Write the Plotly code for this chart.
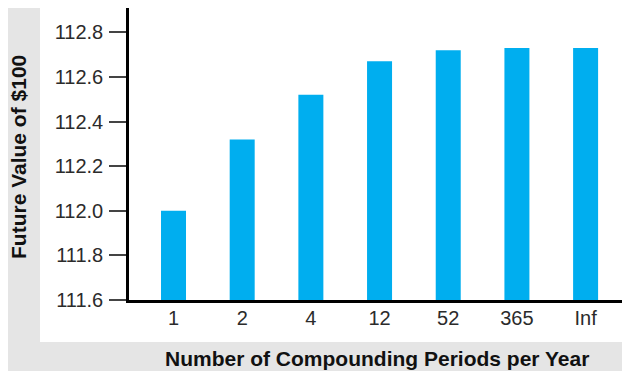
import plotly.graph_objects as go

# Future value of $100 at 12% annual interest, by compounding frequency
periods = ["1", "2", "4", "12", "52", "365", "Inf"]
future_value = [112.00, 112.32, 112.52, 112.67, 112.72, 112.73, 112.73]
y_ticks = [111.6, 111.8, 112.0, 112.2, 112.4, 112.6, 112.8]

W, H = 622, 371
L, R, T, B = 129, 0, 8, 71
pw, ph = W - L - R, H - T - B


def px_x(x):
    return (x - L) / pw


def px_y(y):
    return (H - B - y) / ph


positions = list(range(len(periods)))

fig = go.Figure(
    go.Bar(
        x=positions,
        y=future_value,
        width=0.364,
        marker=dict(color="#00AEEF", line=dict(width=0)),
    )
)

font_family = "Liberation Sans, Arial, Helvetica, sans-serif"

fig.update_layout(
    width=W,
    height=H,
    margin=dict(l=L, r=R, t=T, b=B, pad=0),
    paper_bgcolor="white",
    plot_bgcolor="rgba(0,0,0,0)",
    showlegend=False,
    font=dict(family=font_family, size=20, color="#2b2b2b"),
    xaxis=dict(
        range=[-0.648, 6.53],
        tickvals=positions,
        ticktext=periods,
        showgrid=False,
        zeroline=False,
        showline=True,
        linecolor="black",
        linewidth=2.5,
        ticks="",
        ticklabelstandoff=-2,
        tickfont=dict(size=20, color="#2b2b2b"),
    ),
    yaxis=dict(
        range=[111.6, 112.909],
        tickvals=y_ticks,
        ticktext=[f"{v:.1f}" for v in y_ticks],
        showgrid=False,
        zeroline=False,
        showline=True,
        linecolor="black",
        linewidth=2.5,
        ticks="outside",
        ticklen=17,
        tickwidth=1.5,
        tickcolor="#444444",
        ticklabelstandoff=2,
        tickfont=dict(size=20, color="#2b2b2b"),
    ),
    shapes=[
        # grey frame behind the axis titles
        dict(type="rect", xref="paper", yref="paper", layer="below",
             x0=px_x(8), x1=px_x(W + 2), y0=px_y(H + 2), y1=px_y(8),
             fillcolor="#e5e5e5", line=dict(width=0)),
        # white panel holding the plot
        dict(type="rect", xref="paper", yref="paper", layer="below",
             x0=px_x(40), x1=px_x(W + 2), y0=px_y(342), y1=px_y(-2),
             fillcolor="white", line=dict(width=0)),
    ],
    annotations=[
        dict(text="<b>Future Value of $100</b>", xref="paper", yref="paper",
             x=px_x(19), y=px_y(157), textangle=-90, showarrow=False,
             xanchor="center", yanchor="middle",
             font=dict(family=font_family, size=21, color="#111111")),
        dict(text="<b>Number of Compounding Periods per Year</b>", xref="paper", yref="paper",
             x=px_x(376.5), y=px_y(358), showarrow=False,
             xanchor="center", yanchor="middle",
             font=dict(family=font_family, size=21, color="#111111")),
    ],
)

fig.write_html("out.html")
